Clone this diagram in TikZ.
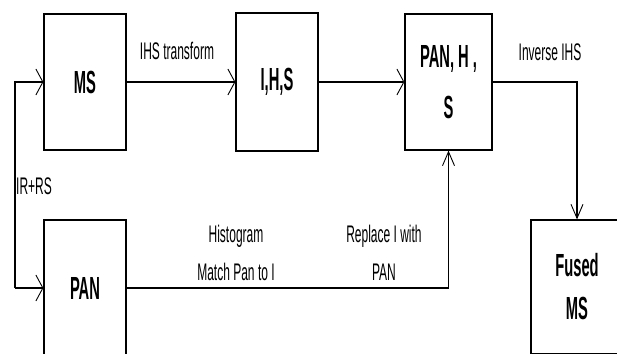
\documentclass[tikz,border=0pt]{standalone}
\usepackage{fontspec}
\setmainfont{Liberation Sans}[FakeStretch=0.5]
\newfontfamily\stagefont{Liberation Sans}[FakeStretch=0.46]
\usepackage{tikz}
\usetikzlibrary{arrows.meta}

\begin{document}
\begin{tikzpicture}[
    x=1pt, y=-1pt,
    % Node styles
    stage/.style={draw, line width=1.2pt, inner sep=0pt, minimum width=82pt, minimum height=136pt,
                  align=center, font=\stagefont\bfseries\fontsize{32}{47}\selectfont},
    lbl/.style={inner sep=0pt, align=center, font=\fontsize{24}{38}\selectfont},
    % Connectors: flat open chevrons sideways, narrow ones up and down
    harrow/.style={line width=1.2pt, -{Straight Barb[length=7pt, width=26pt, line width=0.9pt]}},
    varrow/.style={line width=1.2pt, -{Straight Barb[length=14pt, width=12pt, line width=0.9pt]}}
]
    \useasboundingbox (0,0) rectangle (617,353);
    \clip (0,0) rectangle (617,353);

    % =========================================================================
    % 1. BOXES
    % =========================================================================
    \node[stage] (ms) at (85,82) {MS};
    \node[stage, minimum height=138pt] (ihs) at (277,82) {I,H,S};
    \node[stage, minimum width=87pt, font=\stagefont\bfseries\fontsize{32}{51}\selectfont] (panhs) at (448.5,82) {PAN, H ,\\ S};
    \node[stage] (pan) at (85,288) {PAN};
    \node[stage, minimum width=92pt, minimum height=134pt, font=\stagefont\bfseries\fontsize{32}{43}\selectfont] (fused) at (577,287) {Fused\\ MS};

    % =========================================================================
    % 2. CONNECTORS
    % =========================================================================
    \coordinate (feed) at (15,288);
    \draw[harrow] (feed) |- (ms.west);
    \draw[harrow] (feed) -- (pan.west);
    \draw[harrow] (ms) -- (ihs);
    \draw[harrow] (ihs) -- (panhs);
    \draw[varrow] (panhs.east) -| (fused.north);
    \draw[varrow] (pan.east) -| (panhs.south);

    % =========================================================================
    % 3. LABELS
    % =========================================================================
    \node[lbl] (ihslbl) at (177,51) {IHS transform};
    \node[lbl] (invlbl) at (550,52) {Inverse IHS};
    \node[lbl, anchor=west] (irrs) at (16,186) {IR+RS};
    \node[lbl] (histlbl) at (236,253) {Histogram\\ Match Pan to I};
    \node[lbl] (repllbl) at (384,253) {Replace I with\\ PAN};

\end{tikzpicture}
\end{document}
